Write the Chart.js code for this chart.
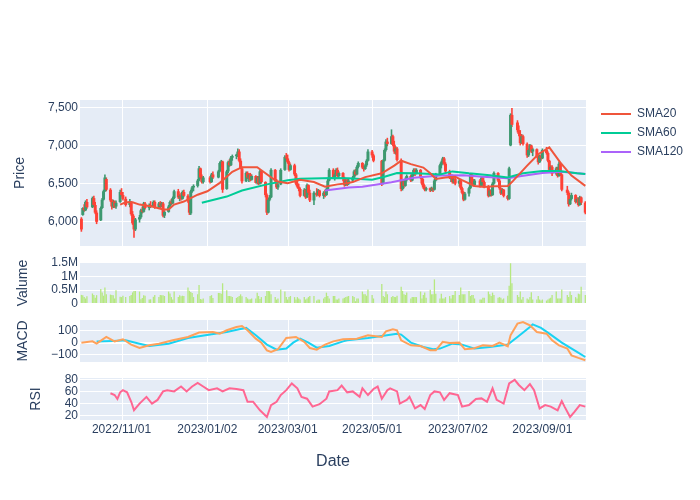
<!DOCTYPE html>
<html>
<head>
<meta charset="utf-8">
<script src="https://cdn.jsdelivr.net/npm/chart.js@4.4.1/dist/chart.umd.min.js"></script>
<style>
html,body{margin:0;padding:0;background:#fff;}
#wrap{width:700px;height:500px;position:relative;}
</style>
</head>
<body>
<div id="wrap"><canvas id="c" width="700" height="500"></canvas></div>
<script>
// ---------------- DATA ----------------
const tradingDays = [
  ['2022-10',[3,4,5,6,7,11,12,13,14,17,18,19,20,21,24,25,26,27,28,31]],
  ['2022-11',[1,2,4,7,8,9,10,11,14,15,16,17,18,21,22,24,25,28,29,30]],
  ['2022-12',[1,2,5,6,7,8,9,12,13,14,15,16,19,20,21,22,23,26,27,28,29,30]],
  ['2023-01',[4,5,6,10,11,12,13,16,17,18,19,20,23,24,25,26,27,30,31]],
  ['2023-02',[1,2,3,6,7,8,9,10,13,14,15,16,17,20,21,22,24,27,28]],
  ['2023-03',[1,2,3,6,7,8,9,10,13,14,15,16,17,20,22,23,24,27,28,29,30,31]],
  ['2023-04',[3,4,5,6,7,10,11,12,13,14,17,18,19,20,21,24,25,26,27,28]],
  ['2023-05',[1,2,8,9,10,11,12,15,16,17,18,19,22,23,24,25,26,29,30,31]],
  ['2023-06',[1,2,5,6,7,8,9,12,13,14,15,16,19,20,21,22,23,26,27,28,29,30]],
  ['2023-07',[3,4,5,6,7,10,11,12,13,14,18,19,20,21,24,25,26,27,28,31]],
  ['2023-08',[1,2,3,4,7,8,9,10,14,15,16,17,18,21,22,23,24,25,28,29,30,31]],
  ['2023-09',[1,4,5,6,7,8,11,12,13,14,15,19,20,21,22,25,26,27,28,29]],
  ['2023-10',[2]]
];
const dates = tradingDays.flatMap(([m, ds]) => ds.map(d => m + '-' + String(d).padStart(2, '0')));

const open = [
  6040,6090,6180,6150,6260,6190,6310,6220,6120,6020,6180,6290,6400,6560,6420,6280,6200,6260,6200,6260,
  6390,6350,6300,6220,6260,6100,6000,5900,6030,6060,6150,6130,6240,6180,6220,6200,6260,6190,6240,6210,
  6240,6080,6130,6200,6260,6240,6310,6400,6320,6340,6300,6390,6340,6270,6110,6400,6450,6470,6540,6700,6580,6520,
  6580,6520,6620,6580,6660,6770,6790,6430,6660,6780,6740,6840,6860,6880,6920,6800,6700,6530,6640,
  6580,6620,6550,6600,6510,6580,6500,6660,6520,6350,6120,6290,6320,6680,6540,6450,6490,6680,6850,
  6830,6780,6680,6740,6620,6500,6460,6430,6340,6420,6320,6480,6380,6280,6380,6350,6410,6340,6380,6350,6430,6540,
  6680,6580,6620,6680,6600,6640,6560,6480,6540,6500,6540,6580,6660,6620,6720,6770,6710,6690,6740,6800,
  6920,6870,6800,6500,6800,6940,7050,7020,7120,7010,6920,6960,6810,6430,6530,6470,6560,6600,6540,6620,
  6680,6630,6680,6580,6500,6450,6420,6440,6410,6440,6420,6540,6620,6740,6780,6830,6760,6660,6580,6600,6520,6560,
  6500,6540,6440,6380,6290,6370,6440,6620,6510,6480,6540,6470,6580,6520,6460,6340,6410,6350,6500,6640,
  6540,6440,6370,6420,6340,6300,7000,7400,7300,7200,7150,7030,7120,7020,6870,6940,7000,6920,6950,6860,6780,6860,
  6830,6940,6900,6800,6680,6720,6630,6700,6600,6760,6620,6420,6380,6230,6300,6350,6260,6300,6220,6320,
  6250
];
const high = [
  6060,6190,6230,6280,6300,6330,6340,6260,6150,6200,6310,6420,6620,6580,6440,6300,6290,6280,6280,6420,
  6440,6390,6330,6300,6270,6140,6080,6050,6090,6170,6200,6260,6260,6240,6270,6280,6280,6260,6270,6260,
  6260,6150,6220,6280,6300,6330,6420,6430,6360,6380,6410,6420,6360,6290,6420,6470,6490,6560,6730,6710,6620,6600,
  6600,6640,6660,6680,6790,6810,6800,6680,6800,6820,6860,6880,6890,6960,6950,6830,6720,6660,6660,
  6640,6640,6620,6610,6600,6600,6680,6670,6530,6370,6310,6350,6700,6690,6560,6520,6700,6870,6900,
  6880,6800,6760,6760,6640,6540,6500,6450,6440,6430,6500,6490,6420,6400,6440,6430,6420,6400,6420,6450,6560,6700,
  6700,6640,6700,6710,6660,6650,6590,6560,6560,6560,6600,6680,6690,6740,6790,6780,6730,6760,6820,6950,
  6940,6890,6810,6820,6960,7080,7100,7210,7140,7060,6990,6980,6830,6560,6550,6580,6620,6620,6640,6700,
  6700,6700,6690,6600,6560,6480,6460,6450,6460,6450,6560,6640,6760,6800,6850,6850,6780,6680,6620,6620,6580,6580,
  6560,6550,6460,6400,6390,6460,6640,6630,6560,6560,6560,6600,6600,6540,6480,6430,6420,6520,6660,6650,
  6560,6450,6440,6430,6350,6720,7420,7490,7330,7260,7200,7150,7140,7040,6960,7020,7010,6970,6960,6880,6880,6880,
  6960,6980,6920,6810,6740,6740,6720,6720,6790,6780,6630,6470,6400,6330,6380,6360,6320,6320,6340,6330,
  6270
];
const low = [
  5870,6080,6130,6140,6170,6180,6200,6100,5970,6010,6170,6280,6390,6400,6260,6160,6180,6180,6170,6250,
  6330,6280,6200,6190,6080,5960,5790,5880,5990,6040,6110,6120,6160,6150,6180,6190,6170,6170,6180,6190,
  6060,6050,6120,6180,6220,6230,6300,6300,6270,6280,6290,6320,6250,6090,6090,6380,6400,6450,6530,6560,6500,6500,
  6500,6510,6560,6570,6650,6720,6380,6420,6640,6720,6730,6800,6820,6850,6780,6690,6500,6520,6560,
  6520,6530,6540,6500,6490,6480,6490,6500,6320,6090,6110,6270,6310,6520,6430,6420,6480,6670,6800,
  6760,6660,6670,6600,6480,6440,6400,6320,6330,6300,6310,6350,6260,6220,6330,6340,6320,6300,6320,6340,6420,6530,
  6560,6540,6600,6580,6570,6530,6460,6470,6470,6480,6520,6570,6600,6610,6700,6690,6660,6680,6720,6790,
  6840,6780,6470,6490,6790,6920,6990,7010,6990,6890,6880,6790,6400,6410,6440,6460,6530,6520,6530,6600,
  6600,6620,6560,6480,6430,6400,6400,6390,6400,6390,6410,6530,6610,6700,6760,6740,6640,6560,6520,6500,6500,6480,
  6460,6420,6360,6270,6280,6330,6430,6490,6460,6470,6450,6460,6500,6440,6320,6330,6330,6340,6490,6520,
  6420,6350,6360,6320,6280,6290,6990,7240,7170,7120,7000,7020,7000,6840,6850,6920,6900,6860,6840,6750,6770,6800,
  6820,6880,6780,6660,6650,6600,6610,6580,6590,6600,6400,6350,6200,6220,6280,6240,6250,6200,6210,6220,
  6100
];
const close = [
  5900,6180,6150,6260,6190,6310,6220,6120,6000,6180,6290,6400,6580,6420,6280,6200,6260,6200,6250,6390,
  6350,6300,6220,6270,6100,5980,5900,6030,6060,6150,6130,6240,6180,6220,6200,6260,6190,6240,6210,6240,
  6080,6130,6200,6260,6240,6310,6400,6320,6340,6300,6390,6340,6270,6120,6400,6450,6470,6540,6700,6580,6520,6580,
  6520,6620,6580,6660,6770,6790,6420,6660,6780,6740,6840,6860,6880,6920,6800,6700,6530,6640,6580,
  6620,6550,6600,6510,6580,6500,6660,6520,6350,6120,6290,6320,6680,6540,6450,6490,6680,6850,6830,
  6780,6680,6740,6620,6500,6460,6430,6340,6420,6320,6480,6380,6280,6380,6350,6410,6340,6380,6350,6430,6540,6680,
  6580,6620,6680,6600,6640,6560,6480,6540,6500,6540,6580,6660,6620,6720,6770,6710,6690,6740,6800,6920,
  6870,6800,6500,6800,6940,7050,7020,7120,7010,6920,6960,6810,6430,6530,6470,6560,6600,6540,6620,6680,
  6630,6680,6580,6500,6450,6420,6440,6410,6440,6420,6540,6620,6740,6780,6830,6760,6660,6580,6600,6520,6560,6500,
  6540,6440,6380,6290,6370,6440,6620,6510,6480,6540,6470,6580,6520,6460,6340,6410,6350,6500,6640,6540,
  6440,6370,6420,6340,6300,6700,7400,7270,7200,7150,7030,7120,7020,6870,6940,7000,6920,6950,6860,6780,6860,6830,
  6940,6900,6800,6680,6720,6630,6700,6600,6760,6620,6420,6380,6230,6300,6350,6260,6300,6220,6320,6250,
  6120
];
// volume in thousands of shares
const volumeK = [
  330,320,250,200,280,380,330,230,320,540,420,300,600,350,340,330,320,200,500,260,
  250,300,250,290,330,420,470,470,450,170,220,320,300,160,170,260,330,250,330,320,
  320,290,450,380,250,160,450,250,320,280,300,290,600,480,430,400,250,350,690,180,160,200,
  290,320,220,400,400,375,750,500,290,290,280,250,220,250,290,350,280,250,200,
  160,170,200,200,410,290,180,250,290,475,475,460,350,250,160,200,525,450,250,
  160,250,290,250,160,250,200,160,250,160,200,250,290,290,130,160,160,200,250,410,290,200,
  290,290,160,160,200,200,225,250,270,290,288,250,100,200,200,450,350,350,300,525,
  325,200,725,290,250,450,350,250,288,250,250,300,625,475,350,325,412,200,250,250,
  250,250,450,200,325,412,225,512,350,350,890,375,200,375,200,200,250,288,200,325,325,475,
  325,600,350,350,350,475,288,325,325,200,162,162,225,225,450,350,288,412,325,225,
  250,225,162,200,300,660,1475,750,325,250,450,162,250,200,162,250,425,162,162,288,162,125,
  162,125,162,200,225,325,450,200,200,200,525,325,250,450,325,250,200,375,350,625,
  325
];

const sma20Dates = ['2022-10-31','2022-11-04','2022-11-09','2022-11-14','2022-11-23','2022-12-01','2022-12-05','2022-12-09','2022-12-16','2022-12-26',
  '2023-01-02','2023-01-11','2023-01-20','2023-01-27','2023-02-07','2023-02-10','2023-02-21','2023-03-01','2023-03-10','2023-03-20',
  '2023-03-28','2023-04-06','2023-04-13','2023-04-17','2023-04-26','2023-05-08','2023-05-17','2023-05-22','2023-05-29','2023-06-07',
  '2023-06-12','2023-06-16','2023-06-23','2023-06-30','2023-07-05','2023-07-14','2023-07-21','2023-07-28','2023-08-07','2023-08-10',
  '2023-08-21','2023-08-29','2023-09-06','2023-09-14','2023-09-22','2023-10-02'];
const sma20Values = [6225,6255,6255,6225,6200,6160,6160,6225,6265,6355,
  6400,6510,6655,6715,6715,6675,6530,6505,6550,6520,
  6460,6490,6505,6520,6585,6635,6735,6800,6755,6710,
  6635,6560,6580,6590,6545,6470,6455,6465,6470,6520,
  6735,6885,6975,6775,6605,6470];

const sma60Dates = ['2022-12-29','2023-01-16','2023-01-27','2023-02-14','2023-03-01','2023-03-10','2023-04-03','2023-04-14','2023-05-01','2023-05-10',
  '2023-05-19','2023-06-02','2023-06-19','2023-06-28','2023-07-10','2023-07-25','2023-08-07','2023-08-18','2023-09-01','2023-09-13',
  '2023-09-26','2023-10-02'];
const sma60Values = [6250,6330,6410,6490,6545,6565,6575,6570,6550,6590,
  6640,6635,6620,6660,6635,6610,6580,6635,6665,6665,
  6635,6625];

const sma120Dates = ['2023-03-28','2023-04-14','2023-04-24','2023-05-15','2023-05-31','2023-06-19','2023-07-06','2023-07-20','2023-08-07','2023-08-17',
  '2023-09-01','2023-09-15','2023-10-02'];
const sma120Values = [6410,6450,6460,6517,6578,6605,6610,6590,6570,6600,
  6640,6655,6625];

const macdDates = ['2022-10-03','2022-10-11','2022-10-14','2022-10-21','2022-10-27','2022-11-02','2022-11-08','2022-11-14','2022-11-21','2022-11-28',
  '2022-12-08','2022-12-19','2022-12-27','2023-01-06','2023-01-11','2023-01-16','2023-01-23','2023-01-27','2023-01-31','2023-02-06',
  '2023-02-10','2023-02-14','2023-02-17','2023-02-22','2023-02-28','2023-03-07','2023-03-13','2023-03-17','2023-03-22','2023-03-28',
  '2023-04-03','2023-04-10','2023-04-20','2023-04-28','2023-05-08','2023-05-11','2023-05-16','2023-05-19','2023-05-22','2023-05-29',
  '2023-06-05','2023-06-12','2023-06-16','2023-06-21','2023-06-26','2023-07-03','2023-07-07','2023-07-13','2023-07-20','2023-07-27',
  '2023-08-01','2023-08-07','2023-08-09','2023-08-14','2023-08-18','2023-08-23','2023-08-28','2023-09-04','2023-09-08','2023-09-13',
  '2023-09-19','2023-09-22','2023-09-27','2023-10-02'];
const macdValues = [0,11,-9,49,11,29,-17,-46,-23,-9,
  20,49,86,91,77,106,134,143,106,34,
  0,-66,-80,-57,40,49,6,-46,-60,-17,
  11,29,34,63,49,97,114,106,20,-23,
  -29,-66,-66,6,-3,0,-57,-51,-23,-29,
  0,-31,63,163,177,149,91,77,20,-23,
  -51,-109,-131,-151];

const signalDates = ['2022-10-14','2022-10-26','2022-11-04','2022-11-14','2022-11-21','2022-12-05','2022-12-19','2023-01-04','2023-01-16','2023-01-25',
  '2023-01-30','2023-02-06','2023-02-14','2023-02-21','2023-02-28','2023-03-05','2023-03-10','2023-03-16','2023-03-22','2023-03-31',
  '2023-04-10','2023-04-13','2023-04-28','2023-05-19','2023-05-22','2023-05-29','2023-06-07','2023-06-14','2023-06-19','2023-06-28',
  '2023-07-05','2023-07-14','2023-07-25','2023-08-07','2023-08-14','2023-08-23','2023-08-25','2023-08-31','2023-09-06','2023-09-15',
  '2023-09-26','2023-10-02'];
const signalValues = [9,14,20,-9,-29,-9,40,69,91,114,
  126,63,-17,-60,-51,0,34,0,-43,-28,
  11,20,40,77,69,0,-37,-57,-51,-9,
  -17,-51,-37,-17,49,134,157,126,77,0,
  -80,-123];

const rsiDates = ['2022-10-24','2022-10-27','2022-10-29','2022-10-31','2022-11-02','2022-11-05','2022-11-08','2022-11-10','2022-11-14','2022-11-19',
  '2022-11-23','2022-11-27','2022-12-01','2022-12-04','2022-12-09','2022-12-14','2022-12-18','2022-12-22','2022-12-26','2022-12-30',
  '2023-01-03','2023-01-09','2023-01-13','2023-01-18','2023-01-23','2023-01-28','2023-01-31','2023-02-04','2023-02-09','2023-02-14',
  '2023-02-17','2023-02-21','2023-02-24','2023-02-28','2023-03-04','2023-03-08','2023-03-11','2023-03-15','2023-03-19','2023-03-24',
  '2023-03-29','2023-03-31','2023-04-06','2023-04-09','2023-04-13','2023-04-17','2023-04-22','2023-04-24','2023-04-28','2023-05-02',
  '2023-05-05','2023-05-08','2023-05-12','2023-05-14','2023-05-19','2023-05-21','2023-05-26','2023-05-28','2023-06-01','2023-06-05',
  '2023-06-08','2023-06-12','2023-06-15','2023-06-19','2023-06-22','2023-06-26','2023-07-02','2023-07-05','2023-07-10','2023-07-15',
  '2023-07-19','2023-07-23','2023-07-27','2023-07-30','2023-08-04','2023-08-08','2023-08-12','2023-08-15','2023-08-19','2023-08-23',
  '2023-08-26','2023-08-30','2023-09-03','2023-09-07','2023-09-12','2023-09-15','2023-09-17','2023-09-21','2023-09-24','2023-09-28',
  '2023-10-02'];
const rsiValues = [57,54,47.5,58.5,62,58.5,43,29,40,51,
  40,46,60,62,60,68,60,68,74,68,
  62,65,60,65,64,62,43,43,29,18,
  37.5,43,54,62,73,65,51,48,35,39,
  48,60,62,69.5,58.5,60,51,65,54,64,
  68,48,62,65,60,40,46,51,32,37.5,
  31,54,60,58.5,46,57,54,35,37.5,47.5,
  48.5,43,65,46,40,73,79,70.5,62,72,
  62,32,37.5,35,29,44,35,18,26,37.5,
  35];

const xTickDates = ['2022-11-01','2023-01-02','2023-03-01','2023-05-01','2023-07-02','2023-09-01'];
const xTickLabels = ['2022/11/01','2023/01/02','2023/03/01','2023/05/01','2023/07/02','2023/09/01'];
const priceTicks = [6000,6500,7000,7500];
const priceTickLabels = ['6,000','6,500','7,000','7,500'];
const volTicks = [0,500000,1000000,1500000];
const volTickLabels = ['0','0.5M','1M','1.5M'];
const macdTicks = [-100,0,100];
const macdTickLabels = ['\u2212100','0','100'];
const rsiTicks = [20,40,60,80];
const rsiTickLabels = ['20','40','60','80'];

// sanity check
[open, high, low, close, volumeK].forEach((a, k) => { if (a.length !== dates.length) throw new Error('length mismatch ' + k + ': ' + a.length + ' vs ' + dates.length); });
[[sma20Dates,sma20Values],[sma60Dates,sma60Values],[sma120Dates,sma120Values],[macdDates,macdValues],[signalDates,signalValues],[rsiDates,rsiValues]]
  .forEach(([d,v],k) => { if (d.length !== v.length) throw new Error('series mismatch ' + k + ': ' + d.length + ' vs ' + v.length); });

// ---------------- CHART ----------------
function toDay(s) { const [y, m, d] = s.split('-').map(Number); return Date.UTC(y, m - 1, d) / 86400000; }
const pts = (ds, vs) => ds.map((d, i) => ({ x: toDay(d), y: vs[i] }));

const FONT = '"Liberation Sans", Arial, Helvetica, sans-serif';
const TXT = '#2a3f5f';
Chart.defaults.font.family = FONT;
Chart.defaults.color = TXT;

const UP = '#3D9970', DOWN = '#FF4136';
const candleColors = dates.map((d, i) => close[i] > open[i] ? UP : DOWN);

function yScale(weight, stackWeight, min, max, tickVals, tickLabels, title, titlePad) {
  return {
    type: 'linear', position: 'left', stack: 'panels', stackWeight, weight, stacked: false,
    min, max, offset: false,
    border: { display: false },
    grid: { color: '#ffffff', lineWidth: c => (c.tick && c.tick.value === 0 ? 2 : 1), drawTicks: false },
    afterBuildTicks: s => { s.ticks = tickVals.map(v => ({ value: v })); },
    afterFit: s => { s.width = 80; },
    ticks: { autoSkip: false, padding: 2, color: TXT, font: { size: 12 }, callback: (v, i) => tickLabels[i] },
    title: { display: true, text: title, color: TXT, font: { size: 14 }, padding: { top: titlePad, bottom: 0 } }
  };
}
const spacer = (weight) => ({ type: 'linear', position: 'left', stack: 'panels', stackWeight: 16, weight, display: false });

const lineDs = (label, ds, vs, color, yAxisID) => ({
  type: 'line', label, data: pts(ds, vs), borderColor: color, backgroundColor: color,
  borderWidth: 2, pointRadius: 0, pointHoverRadius: 0, pointBorderWidth: 2, tension: 0,
  xAxisID: 'x', yAxisID, order: 0
});

const panelPlugin = {
  id: 'panels',
  beforeLayout(chart) {
    const lg = chart.legend;
    if (lg && !lg.__fixed) {
      const f = lg.fit;
      lg.fit = function () { f.call(this); this.width = 114; };
      lg.__fixed = true;
    }
  },
  afterLayout(chart) {
    if (chart.legend) { chart.legend.left = 594; chart.legend.top = 101; }
  },
  beforeDraw(chart) {
    const { ctx, chartArea: a } = chart;
    ctx.save();
    ctx.fillStyle = '#ffffff';
    ctx.fillRect(0, 0, chart.width, chart.height);
    ctx.fillStyle = '#E5ECF6';
    for (const id of ['y', 'yVol', 'yMacd', 'yRsi']) {
      const s = chart.scales[id];
      ctx.fillRect(a.left, s.top, a.right - a.left, s.bottom - s.top);
    }
    ctx.restore();
  },
  beforeDatasetsDraw(chart) {
    const { ctx } = chart;
    const xs = chart.scales.x;
    ctx.save();
    ctx.strokeStyle = '#ffffff';
    ctx.lineWidth = 1;
    for (const id of ['y', 'yMacd', 'yRsi']) {
      const s = chart.scales[id];
      for (const d of xTickDates) {
        const px = Math.round(xs.getPixelForValue(toDay(d))) + 0.5;
        ctx.beginPath(); ctx.moveTo(px, s.top); ctx.lineTo(px, s.bottom); ctx.stroke();
      }
    }
    ctx.restore();
  }
};

new Chart(document.getElementById('c'), {
  type: 'line',
  data: {
    datasets: [
      lineDs('SMA20', sma20Dates, sma20Values, '#EF553B', 'y'),
      lineDs('SMA60', sma60Dates, sma60Values, '#00CC96', 'y'),
      lineDs('SMA120', sma120Dates, sma120Values, '#AB63FA', 'y'),
      {
        type: 'bar', label: 'wick', stack: 'c', order: 3, xAxisID: 'x', yAxisID: 'y',
        data: dates.map((d, i) => ({ x: toDay(d), y: [low[i], high[i]] })),
        backgroundColor: candleColors, borderWidth: 0, barThickness: 1.6, inflateAmount: 0
      },
      {
        type: 'bar', label: 'body', stack: 'c', order: 2, xAxisID: 'x', yAxisID: 'y',
        data: dates.map((d, i) => ({ x: toDay(d), y: [open[i], close[i]] })),
        backgroundColor: candleColors, borderWidth: 0, barThickness: 3, inflateAmount: 0
      },
      {
        type: 'bar', label: 'Valume', stack: 'c', order: 1, xAxisID: 'x', yAxisID: 'yVol',
        data: dates.map((d, i) => ({ x: toDay(d), y: volumeK[i] * 1000 })),
        backgroundColor: '#B6E880', borderWidth: 0, barThickness: 1.3, inflateAmount: 0
      },
      lineDs('MACD', macdDates, macdValues, '#FFA15A', 'yMacd'),
      lineDs('Signal', signalDates, signalValues, '#19D3F3', 'yMacd'),
      lineDs('RSI', rsiDates, rsiValues, '#FF6692', 'yRsi')
    ]
  },
  options: {
    responsive: false,
    animation: false,
    events: [],
    devicePixelRatio: 1,
    layout: { padding: { top: 100, right: 0, bottom: 0, left: 0 } },
    plugins: {
      tooltip: { enabled: false },
      title: { display: false },
      legend: {
        display: true, position: 'right', align: 'start',
        labels: {
          usePointStyle: true, pointStyle: 'line', pointStyleWidth: 30, boxHeight: 12,
          padding: 7, color: TXT, font: { size: 12 },
          filter: item => /^SMA/.test(item.text)
        }
      }
    },
    scales: {
      x: {
        type: 'linear', position: 'bottom', offset: false,
        min: toDay('2022-10-02'), max: toDay('2023-10-02') + 0.5,
        grid: { display: false, drawTicks: false }, border: { display: false },
        afterBuildTicks: s => { s.ticks = xTickDates.map(d => ({ value: toDay(d) })); },
        afterFit: s => { s.height = 80; },
        ticks: { autoSkip: false, maxRotation: 0, minRotation: 0, padding: 2, color: TXT, font: { size: 12 },
                 callback: (v, i) => xTickLabels[i] },
        title: { display: true, text: 'Date', color: TXT, font: { size: 16 }, padding: { top: 0, bottom: 29 } }
      },
      y: yScale(70, 146, 5683, 7595, priceTicks, priceTickLabels, 'Price', 12),
      gap1: spacer(60),
      yVol: yScale(50, 42, 0, 1520000, volTicks, volTickLabels, 'Valume', 15),
      gap2: spacer(40),
      yMacd: yScale(30, 42, -166, 194, macdTicks, macdTickLabels, 'MACD', 15),
      gap3: spacer(20),
      yRsi: yScale(10, 42, 13, 82, rsiTicks, rsiTickLabels, 'RSI', 28)
    }
  },
  plugins: [panelPlugin]
});
</script>
</body>
</html>
